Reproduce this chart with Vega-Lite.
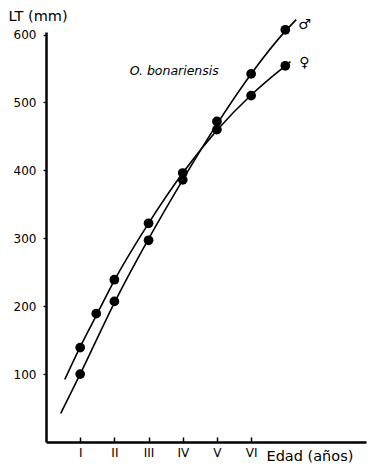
{
  "$schema": "https://vega.github.io/schema/vega-lite/v6.json",
  "width": 320,
  "height": 410,
  "autosize": {"type": "none"},
  "padding": {"left": 46, "top": 32, "right": 9, "bottom": 28},
  "background": "white",
  "config": {
    "view": {"stroke": null},
    "font": "DejaVu Sans",
    "axis": {"grid": false, "domainColor": "black", "tickColor": "black", "labelColor": "black", "titleColor": "black", "labelFont": "DejaVu Sans", "titleFont": "DejaVu Sans", "titleFontWeight": "normal"}
  },
  "datasets": {
    "curves": [
      {"sexo": "macho", "edad": 0.43, "lt": 42},
      {"sexo": "macho", "edad": 1, "lt": 100},
      {"sexo": "macho", "edad": 2, "lt": 205},
      {"sexo": "macho", "edad": 3, "lt": 299},
      {"sexo": "macho", "edad": 4, "lt": 386},
      {"sexo": "macho", "edad": 5, "lt": 468},
      {"sexo": "macho", "edad": 6, "lt": 542},
      {"sexo": "macho", "edad": 7, "lt": 605},
      {"sexo": "macho", "edad": 7.32, "lt": 622},
      {"sexo": "hembra", "edad": 0.55, "lt": 92},
      {"sexo": "hembra", "edad": 1, "lt": 140},
      {"sexo": "hembra", "edad": 1.5, "lt": 189},
      {"sexo": "hembra", "edad": 2, "lt": 238},
      {"sexo": "hembra", "edad": 3, "lt": 322},
      {"sexo": "hembra", "edad": 4, "lt": 396},
      {"sexo": "hembra", "edad": 5, "lt": 459},
      {"sexo": "hembra", "edad": 6, "lt": 511},
      {"sexo": "hembra", "edad": 7, "lt": 554},
      {"sexo": "hembra", "edad": 7.15, "lt": 560}
    ],
    "dots": [
      {"sexo": "macho", "edad": 1, "lt": 100},
      {"sexo": "macho", "edad": 2, "lt": 207},
      {"sexo": "macho", "edad": 3, "lt": 297},
      {"sexo": "macho", "edad": 4, "lt": 386},
      {"sexo": "macho", "edad": 5, "lt": 472},
      {"sexo": "macho", "edad": 6, "lt": 542},
      {"sexo": "macho", "edad": 7, "lt": 607},
      {"sexo": "hembra", "edad": 1, "lt": 139},
      {"sexo": "hembra", "edad": 1.47, "lt": 189},
      {"sexo": "hembra", "edad": 2, "lt": 239},
      {"sexo": "hembra", "edad": 3, "lt": 322},
      {"sexo": "hembra", "edad": 4, "lt": 396},
      {"sexo": "hembra", "edad": 5, "lt": 460},
      {"sexo": "hembra", "edad": 6, "lt": 510},
      {"sexo": "hembra", "edad": 7, "lt": 554}
    ],
    "species": [
      {"edad": 3.75, "lt": 547, "texto": "O. bonariensis"}
    ],
    "symbols": [
      {"edad": 7.56, "lt": 614, "texto": "♂"},
      {"edad": 7.56, "lt": 558, "texto": "♀"}
    ]
  },
  "layer": [
    {
      "data": {"name": "curves"},
      "mark": {"type": "line", "color": "black", "strokeWidth": 1.6, "interpolate": "monotone", "clip": false},
      "encoding": {
        "x": {"field": "edad", "type": "quantitative",
          "scale": {"domain": [0, 9.36], "nice": false, "zero": false},
          "axis": {"values": [1, 2, 3, 4, 5, 6], "labelExpr": "['','I','II','III','IV','V','VI'][datum.value]",
            "domainWidth": 2.5, "tickSize": -5, "tickWidth": 1.5, "labelPadding": 10, "labelFontSize": 12,
            "title": "Edad (años)", "titleFontSize": 14.5, "titleAlign": "left", "titleBaseline": "middle",
            "titleAnchor": null, "titleX": 220, "titleY": 14}},
        "y": {"field": "lt", "type": "quantitative",
          "scale": {"domain": [0, 603.7], "nice": false},
          "axis": {"values": [100, 200, 300, 400, 500, 600], "domainWidth": 2.5, "tickSize": 3, "tickWidth": 1.3,
            "labelPadding": 7, "labelFontSize": 12,
            "title": "LT (mm)", "titleFontSize": 14.5, "titleAngle": 0, "titleAlign": "left", "titleBaseline": "middle",
            "titleAnchor": null, "titleX": -38, "titleY": -16}},
        "detail": {"field": "sexo"}
      }
    },
    {
      "data": {"name": "dots"},
      "mark": {"type": "point", "filled": true, "color": "black", "opacity": 1, "size": 95, "clip": false},
      "encoding": {
        "x": {"field": "edad", "type": "quantitative"},
        "y": {"field": "lt", "type": "quantitative"}
      }
    },
    {
      "data": {"name": "species"},
      "mark": {"type": "text", "fontStyle": "italic", "fontSize": 12.5, "color": "black", "align": "center", "baseline": "middle"},
      "encoding": {
        "x": {"field": "edad", "type": "quantitative"},
        "y": {"field": "lt", "type": "quantitative"},
        "text": {"field": "texto"}
      }
    },
    {
      "data": {"name": "symbols"},
      "mark": {"type": "text", "fontSize": 14, "color": "black", "align": "center", "baseline": "middle", "clip": false},
      "encoding": {
        "x": {"field": "edad", "type": "quantitative"},
        "y": {"field": "lt", "type": "quantitative"},
        "text": {"field": "texto"}
      }
    }
  ]
}
